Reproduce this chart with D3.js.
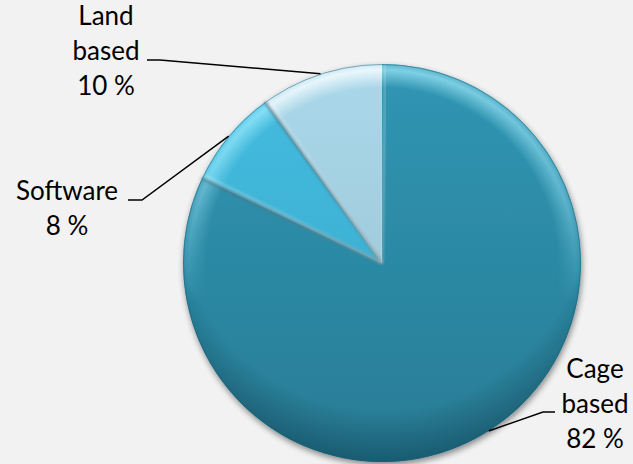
<!DOCTYPE html>
<html>
<head>
<meta charset="utf-8">
<script src="https://cdn.jsdelivr.net/npm/d3@7/dist/d3.min.js"></script>
<style>
  html, body { margin: 0; padding: 0; background: #f2f2f2; }
  svg { display: block; }
  text { font-family: "Lato", "Open Sans", sans-serif; fill: #000; }
</style>
</head>
<body>
<svg id="chart" width="633" height="464"></svg>
<script>
// Market segments and their shares (%)
const categories = ["Cage based", "Software", "Land based"];
const shares = [82, 8, 10];
const labelLines = [["Cage", "based", "82 %"], ["Software", "8 %"], ["Land", "based", "10 %"]];

// Fill colours per segment: [rim highlight, body top, body bottom]
const palette = [
  ["#8ad8ec", "#3096b3", "#287c95"],
  ["#9ae9fd", "#45bde0", "#35a6c8"],
  ["#f2fbfe", "#aad8ea", "#98c0cf"]
];

// Label anchor (centre x, first baseline y) and elbow of the leader line
const labelLayout = [
  { x: 595, y: 378, elbowX: 543, elbowY: 412, endX: 555 },
  { x: 67,  y: 200, elbowX: 142, elbowY: 200, endX: 128 },
  { x: 106, y: 25,  elbowX: 160, elbowY: 60,  endX: 147 }
];

const width = 633, height = 464;
const cx = 382, cy = 263, radius = 199;
const lineHeight = 35;

const svg = d3.select("#chart");
const defs = svg.append("defs");

// Soft shadow under the disc
const shadow = defs.append("filter").attr("id", "shadow")
  .attr("x", "-20%").attr("y", "-20%").attr("width", "140%").attr("height", "140%");
shadow.append("feGaussianBlur").attr("in", "SourceAlpha").attr("stdDeviation", 3).attr("result", "b");
shadow.append("feOffset").attr("dx", 1).attr("dy", 3).attr("result", "o");
shadow.append("feComponentTransfer").attr("in", "o").attr("result", "s")
  .append("feFuncA").attr("type", "linear").attr("slope", 0.45);
const merge = shadow.append("feMerge");
merge.append("feMergeNode").attr("in", "s");
merge.append("feMergeNode").attr("in", "SourceGraphic");

const blur = defs.append("filter").attr("id", "soft");
blur.append("feGaussianBlur").attr("stdDeviation", 1.4);

palette.forEach((c, i) => {
  const g = defs.append("linearGradient").attr("id", "body" + i)
    .attr("gradientUnits", "userSpaceOnUse")
    .attr("x1", 0).attr("y1", -radius).attr("x2", 0).attr("y2", radius);
  g.append("stop").attr("offset", 0).attr("stop-color", c[1]);
  g.append("stop").attr("offset", 1).attr("stop-color", c[2]);
  const r = defs.append("radialGradient").attr("id", "rim" + i)
    .attr("gradientUnits", "userSpaceOnUse")
    .attr("cx", 0).attr("cy", 0).attr("r", radius);
  r.append("stop").attr("offset", 0.88).attr("stop-color", c[0]).attr("stop-opacity", 0);
  r.append("stop").attr("offset", 0.97).attr("stop-color", c[0]).attr("stop-opacity", 0.9);
  r.append("stop").attr("offset", 1).attr("stop-color", c[0]).attr("stop-opacity", 0.5);
});

// Rim light falls off from the top of the disc downwards
const rimFade = defs.append("linearGradient").attr("id", "rimFade")
  .attr("gradientUnits", "userSpaceOnUse")
  .attr("x1", 0).attr("y1", -radius).attr("x2", 0).attr("y2", radius * 0.2);
rimFade.append("stop").attr("offset", 0).attr("stop-color", "#fff");
rimFade.append("stop").attr("offset", 0.55).attr("stop-color", "#fff").attr("stop-opacity", 0.6);
rimFade.append("stop").attr("offset", 1).attr("stop-color", "#fff").attr("stop-opacity", 0);
defs.append("mask").attr("id", "rimMask")
  .attr("maskUnits", "userSpaceOnUse")
  .attr("x", -radius - 5).attr("y", -radius - 5).attr("width", 2 * radius + 10).attr("height", 2 * radius + 10)
  .append("rect")
  .attr("x", -radius - 5).attr("y", -radius - 5).attr("width", 2 * radius + 10).attr("height", 2 * radius + 10)
  .attr("fill", "url(#rimFade)");

// Darkening towards the lower edge of the disc
const lowShade = defs.append("radialGradient").attr("id", "lowShade")
  .attr("gradientUnits", "userSpaceOnUse")
  .attr("cx", 0).attr("cy", -radius * 0.3).attr("r", radius * 1.3);
lowShade.append("stop").attr("offset", 0.8).attr("stop-color", "#0c3a4a").attr("stop-opacity", 0);
lowShade.append("stop").attr("offset", 1).attr("stop-color", "#0c3a4a").attr("stop-opacity", 0.5);

const pie = d3.pie().sort(null).value(d => d)(shares);
const arc = d3.arc().innerRadius(0).outerRadius(radius);

const root = svg.append("g").attr("transform", `translate(${cx},${cy})`);
const disc = root.append("g").attr("filter", "url(#shadow)");

disc.selectAll("path.body").data(pie).join("path")
  .attr("class", "body")
  .attr("d", arc)
  .attr("fill", (d, i) => `url(#body${i})`);

// Lower-edge shade
root.append("path")
  .attr("d", arc({ startAngle: 0, endAngle: 2 * Math.PI }))
  .attr("fill", "url(#lowShade)");

// Rim highlight along each outer arc, strongest at the top
root.append("g").attr("mask", "url(#rimMask)")
  .selectAll("path.rim").data(pie).join("path")
  .attr("class", "rim")
  .attr("d", arc)
  .attr("fill", (d, i) => `url(#rim${i})`);

// Bevelled slice borders: dark groove plus soft light ridge
const edgeAngles = pie.map(d => d.startAngle);
const edge = a => [[0, 0], [radius * Math.sin(a), -radius * Math.cos(a)]];
root.selectAll("path.groove").data(edgeAngles).join("path")
  .attr("class", "groove")
  .attr("d", a => d3.line()(edge(a)))
  .attr("stroke", "#55707a").attr("stroke-width", 2.4).attr("opacity", 0.8)
  .attr("filter", "url(#soft)");
root.selectAll("path.ridge").data(edgeAngles).join("path")
  .attr("class", "ridge")
  .attr("d", a => d3.line()(edge(a + 0.018)))
  .attr("stroke", "#ffffff").attr("stroke-width", 2).attr("opacity", 0.35)
  .attr("filter", "url(#soft)");

// Thin dark outline around the disc
root.append("circle").attr("r", radius - 0.5)
  .attr("fill", "none").attr("stroke", "#1d5f73").attr("stroke-width", 1).attr("opacity", 0.5);

// Leader lines from each slice's mid-arc to its label
const lines = svg.append("g");
pie.forEach((d, i) => {
  const mid = (d.startAngle + d.endAngle) / 2;
  const px = cx + radius * Math.sin(mid), py = cy - radius * Math.cos(mid);
  const L = labelLayout[i];
  lines.append("path")
    .attr("d", d3.line()([[px, py], [L.elbowX, L.elbowY], [L.endX, L.elbowY]]))
    .attr("fill", "none").attr("stroke", "#000").attr("stroke-width", 1.5);
});

// Labels
const labels = svg.append("g");
labelLines.forEach((lines_, i) => {
  const L = labelLayout[i];
  const t = labels.append("text").attr("text-anchor", "middle").attr("font-size", 26);
  lines_.forEach((s, k) => {
    t.append("tspan").attr("x", L.x).attr("y", L.y + k * lineHeight).text(s);
  });
});
</script>
</body>
</html>
